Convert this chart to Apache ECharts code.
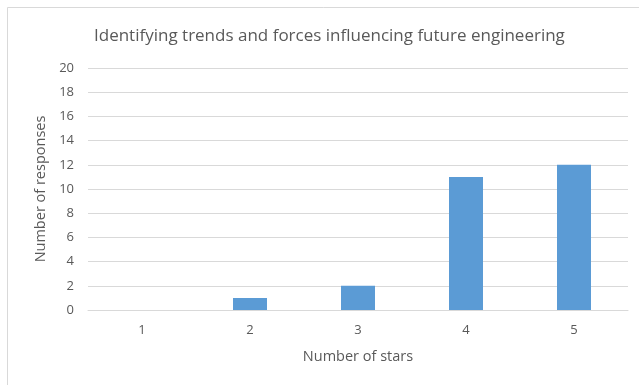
<!DOCTYPE html>
<html>
<head>
<meta charset="utf-8">
<script src="https://cdn.jsdelivr.net/npm/echarts@6/dist/echarts.min.js"></script>
<style>
  html, body { margin: 0; padding: 0; background: #fff; }
  #chart { width: 639px; height: 385px; }
</style>
</head>
<body>
<div id="chart"></div>
<script>
// Star ratings and how many responses each received
const starCategories = ['1', '2', '3', '4', '5'];
const responseCounts = [0, 1, 2, 11, 12];
const yTicks = { min: 0, max: 20, interval: 2 };

const chartTitle = 'Identifying trends and forces influencing future engineering';
const xAxisTitle = 'Number of stars';
const yAxisTitle = 'Number of responses';

const textGray = '#595959';
const fontFamily = '"Open Sans", "Liberation Sans", sans-serif';

const chart = echarts.init(document.getElementById('chart'), null, { renderer: 'canvas' });

chart.setOption({
  animation: false,
  backgroundColor: '#ffffff',
  graphic: [{
    type: 'rect',
    shape: { x: 7.5, y: 7.5, width: 700, height: 500 },
    style: { fill: 'none', stroke: '#d9d9d9', lineWidth: 1 },
    silent: true,
    z: -1
  }],
  title: {
    text: chartTitle,
    left: 89,
    top: 23,
    textStyle: {
      fontFamily: fontFamily,
      fontSize: 17,
      fontWeight: 'normal',
      color: textGray
    }
  },
  grid: {
    left: 88,
    right: 11,
    top: 68,
    bottom: 75,
    containLabel: false
  },
  xAxis: {
    type: 'category',
    data: starCategories,
    name: xAxisTitle,
    nameLocation: 'middle',
    nameGap: 39,
    nameTextStyle: { fontFamily: fontFamily, fontSize: 14.5, color: textGray },
    axisLine: { show: true, lineStyle: { color: '#d9d9d9', width: 1 } },
    axisTick: { show: false },
    axisLabel: { fontFamily: fontFamily, fontSize: 13, color: textGray, margin: 14 }
  },
  yAxis: {
    type: 'value',
    min: yTicks.min,
    max: yTicks.max,
    interval: yTicks.interval,
    name: yAxisTitle,
    nameLocation: 'middle',
    nameGap: 39,
    nameTextStyle: { fontFamily: fontFamily, fontSize: 14.5, color: textGray },
    axisLine: { show: false },
    axisTick: { show: false },
    axisLabel: { fontFamily: fontFamily, fontSize: 13, color: textGray, margin: 14 },
    splitLine: { lineStyle: { color: '#d9d9d9', width: 1 } }
  },
  series: [{
    type: 'bar',
    data: responseCounts,
    barWidth: 34,
    itemStyle: { color: '#5b9bd5' }
  }]
});
</script>
</body>
</html>
